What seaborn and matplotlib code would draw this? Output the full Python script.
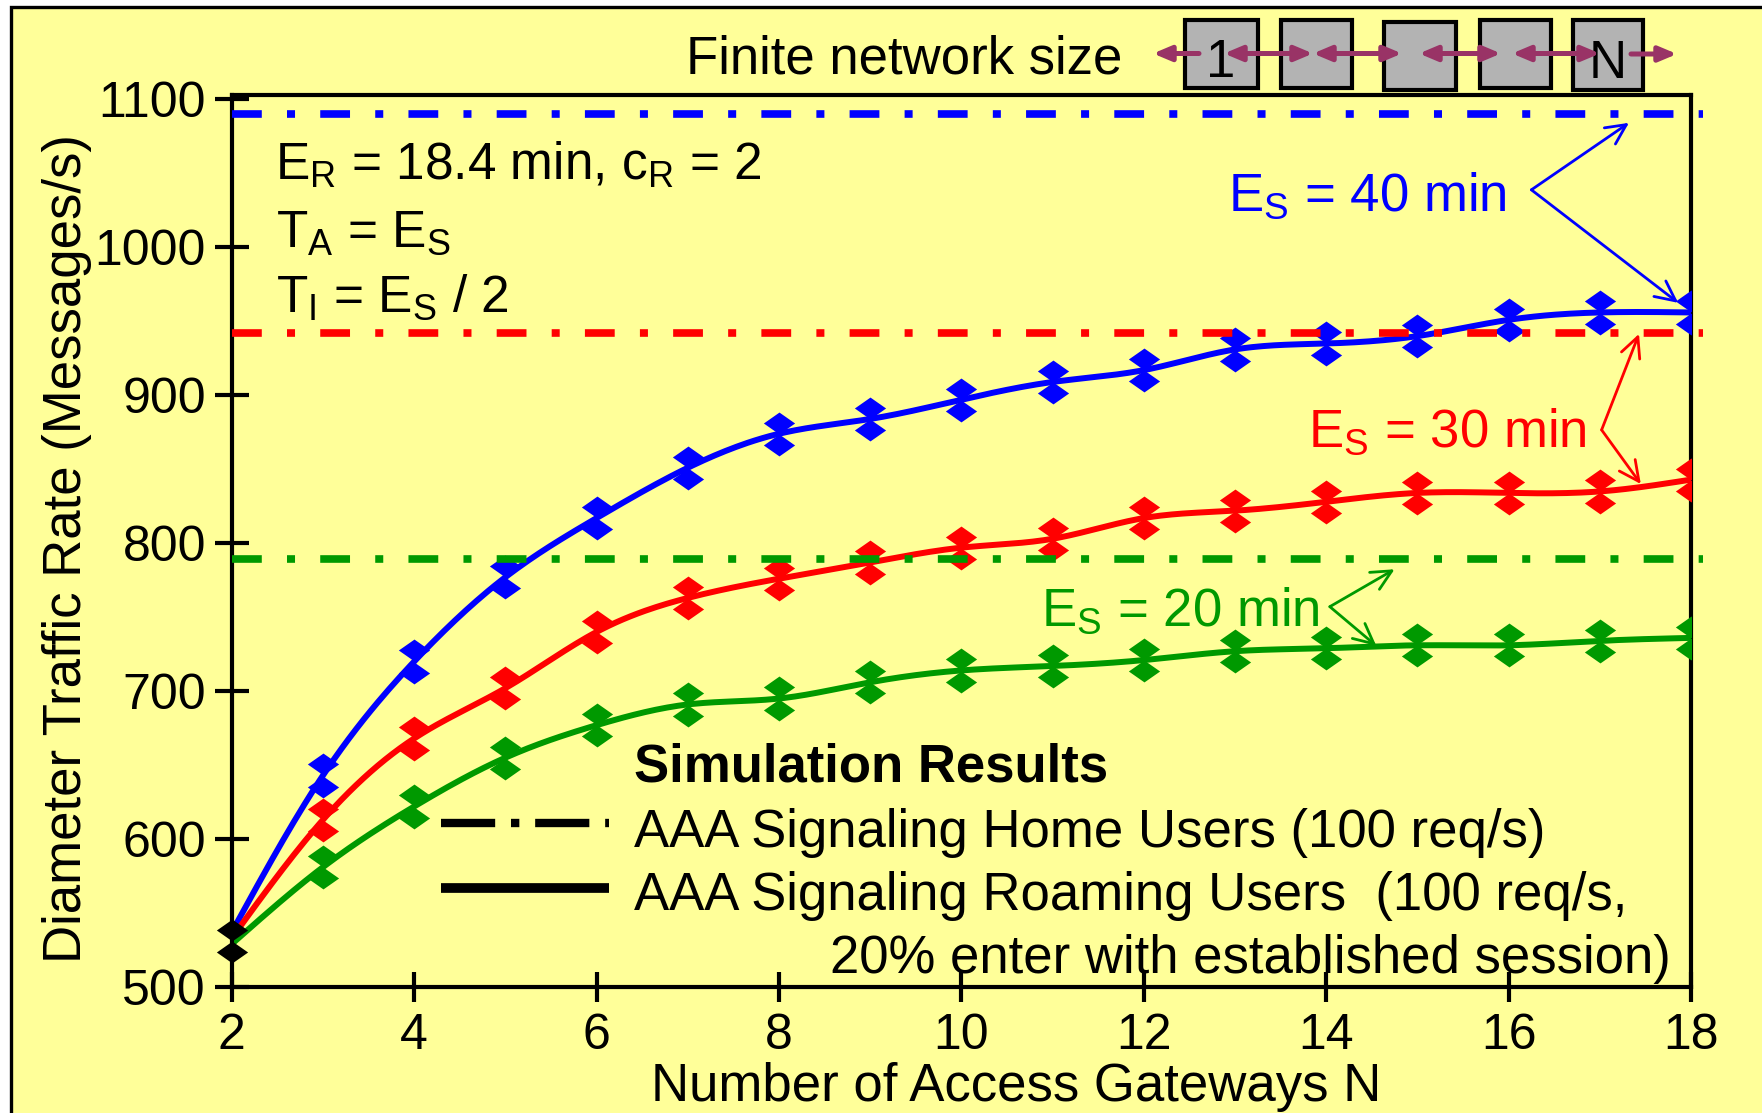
import numpy as np
import pandas as pd
import matplotlib
matplotlib.use("Agg")
import matplotlib.pyplot as plt
import seaborn as sns
from matplotlib.path import Path
from matplotlib.patches import Rectangle, FancyArrowPatch

# ---------------------------------------------------------------- data
gateways = list(range(2, 19))

# mean Diameter traffic rate of roaming users (messages/s)
rate_es40 = [537, 643, 720, 777, 817, 851, 874, 884, 897, 909, 917, 931, 935, 940, 951, 956, 956]
rate_es30 = [533, 613, 668, 702, 740, 763, 776, 787, 797, 803, 817, 822, 828, 834, 834, 835, 843]
rate_es20 = [529, 581, 622, 655, 677, 691, 695, 706, 714, 717, 721, 727, 729, 731, 731, 734, 736]

# half width of the simulation confidence interval
ci_half = 7.5
# common simulated value for a single gateway (N = 2)
start_mean = 531
start_ci_half = 7.3

# home-user signalling rates (horizontal reference levels)
home_es40 = 1090
home_es30 = 942
home_es20 = 789

series_names = ["E_S = 40 min", "E_S = 30 min", "E_S = 20 min"]
series_rates = [rate_es40, rate_es30, rate_es20]
home_levels = [home_es40, home_es30, home_es20]

x_ticks = [2, 4, 6, 8, 10, 12, 14, 16, 18]
y_ticks = [500, 600, 700, 800, 900, 1000, 1100]

# ---------------------------------------------------------------- style
W, H = 1762, 1113
YELLOW = "#FFFF99"
colors = {"E_S = 40 min": "#0000FF", "E_S = 30 min": "#FF0000", "E_S = 20 min": "#009900"}
PURPLE = "#993366"

sns.set_theme(style="white")
plt.rcParams["font.family"] = ["Liberation Sans", "DejaVu Sans"]
plt.rcParams["mathtext.fontset"] = "custom"
plt.rcParams["mathtext.rm"] = "Liberation Sans"
plt.rcParams["mathtext.it"] = "Liberation Sans:italic"
plt.rcParams["mathtext.bf"] = "Liberation Sans:bold"


def natural_spline(x, y, xs):
    """Natural cubic spline through (x, y), evaluated at xs."""
    x = np.asarray(x, float)
    y = np.asarray(y, float)
    n = len(x)
    h = np.diff(x)
    A = np.zeros((n, n))
    r = np.zeros(n)
    A[0, 0] = A[-1, -1] = 1.0
    for i in range(1, n - 1):
        A[i, i - 1] = h[i - 1]
        A[i, i] = 2 * (h[i - 1] + h[i])
        A[i, i + 1] = h[i]
        r[i] = 3 * ((y[i + 1] - y[i]) / h[i] - (y[i] - y[i - 1]) / h[i - 1])
    c = np.linalg.solve(A, r)
    b = (y[1:] - y[:-1]) / h - h * (2 * c[:-1] + c[1:]) / 3
    d = (c[1:] - c[:-1]) / (3 * h)
    idx = np.clip(np.searchsorted(x, xs) - 1, 0, n - 2)
    dx = xs - x[idx]
    return y[idx] + b[idx] * dx + c[idx] * dx ** 2 + d[idx] * dx ** 3


def P(px, py):
    """Pixel position (from top-left) to figure fraction."""
    return (px / W, 1 - py / H)


fig = plt.figure(figsize=(W / 100, H / 100), dpi=100)
fig.patch.set_facecolor("white")
fig.add_artist(Rectangle(P(11, 1200), (1850 - 11) / W, (1200 - 7) / H,
                         transform=fig.transFigure, facecolor=YELLOW,
                         edgecolor="black", lw=2.4, zorder=-10))

left, right, top, bottom = 231.7, 1691, 95, 987
ax = fig.add_axes([left / W, 1 - bottom / H, (right - left) / W, (bottom - top) / H])
ax.set_facecolor(YELLOW)

# ---------------------------------------------------------------- curves
dense_x = np.linspace(2, 18, 400)
frames = []
for name, rate in zip(series_names, series_rates):
    frames.append(pd.DataFrame({"N": dense_x,
                                "rate": natural_spline(gateways, rate, dense_x),
                                "series": name}))
curves = pd.concat(frames, ignore_index=True)
sns.lineplot(data=curves, x="N", y="rate", hue="series", palette=colors,
             estimator=None, sort=False, lw=4.3, legend=False, ax=ax, zorder=3)

diamond = Path([(0, 0.7), (1, 0), (0, -0.7), (-1, 0), (0, 0.7)],
               [Path.MOVETO, Path.LINETO, Path.LINETO, Path.LINETO, Path.CLOSEPOLY])
MARKER_S = 22.5 ** 2

for name, rate in zip(series_names, series_rates):
    n = np.array(gateways[1:])
    m = np.array(rate[1:], float)
    ax.vlines(n, m - ci_half, m + ci_half, color=colors[name], lw=2.2, zorder=4)
    ends = pd.DataFrame({"N": np.concatenate([n, n]),
                         "rate": np.concatenate([m - ci_half, m + ci_half])})
    sns.scatterplot(data=ends, x="N", y="rate", marker=diamond, s=MARKER_S,
                    color=colors[name], linewidth=0, ax=ax, zorder=5, legend=False)

# single-gateway result shared by all three series
ax.vlines([2], [start_mean - start_ci_half], [start_mean + start_ci_half],
          color="black", lw=2.2, zorder=6, clip_on=False)
sns.scatterplot(x=[2, 2], y=[start_mean - start_ci_half, start_mean + start_ci_half],
                marker=diamond, s=MARKER_S, color="black", linewidth=0, ax=ax,
                zorder=7, legend=False, clip_on=False)

# home users: constant rates
dash_pattern = (3.9, 3.3, 1.05, 3.3)
for name, level in zip(series_names, home_levels):
    ax.plot([2, 18.13], [level, level], color=colors[name], lw=5.5,
            dashes=dash_pattern, dash_capstyle="butt", clip_on=False, zorder=6)

# ---------------------------------------------------------------- axes
ax.set_xlim(2, 18)
ax.set_ylim(500, 1103)
ax.set_xticks(x_ticks)
ax.set_yticks(y_ticks)
ax.tick_params(axis="both", which="both", direction="inout", colors="black",
               labelsize=36, width=3)
ax.tick_params(axis="x", length=22, pad=8, bottom=True)
ax.tick_params(axis="y", length=25, pad=6, left=True)
for s in ax.spines.values():
    s.set_visible(True)
    s.set_color("black")
    s.set_linewidth(3)
ax.grid(False)

ax.set_xlabel("Number of Access Gateways N", fontsize=38, color="black")
ax.xaxis.set_label_coords(0.5375, -0.084)
ax.set_ylabel("Diameter Traffic Rate (Messages/s)", fontsize=38, color="black")
ax.yaxis.set_label_coords(-0.096, 0.492)

# ---------------------------------------------------------------- texts
ax.text(2.47, 1045.6, r"E$_{\mathregular{R}}$ = 18.4 min, c$_{\mathregular{R}}$ = 2",
        fontsize=37, va="baseline", ha="left", color="black")
ax.text(2.49, 1000.5, r"T$_{\mathregular{A}}$ = E$_{\mathregular{S}}$",
        fontsize=37, va="baseline", ha="left", color="black")
ax.text(2.49, 956.6, r"T$_{\mathregular{I}}$ = E$_{\mathregular{S}}$ / 2",
        fontsize=37, va="baseline", ha="left", color="black")

labels = {"E_S = 40 min": (r"E$_{\mathregular{S}}$ = 40 min", 12.92, 1024.9,
                           (16.25, 1038.9), [(17.32, 1084.2), (17.86, 962.5)]),
          "E_S = 30 min": (r"E$_{\mathregular{S}}$ = 30 min", 13.80, 865.1,
                           (17.02, 876.6), [(17.43, 941.5), (17.45, 840.0)]),
          "E_S = 20 min": (r"E$_{\mathregular{S}}$ = 20 min", 10.875, 744.1,
                           (14.04, 757.1), [(14.75, 782.4), (14.55, 730.6)])}
for name, (txt, tx, ty, vertex, tips) in labels.items():
    ax.text(tx, ty, txt, fontsize=38, va="baseline", ha="left", color=colors[name])
    for tip in tips:
        ax.annotate("", xy=tip, xytext=vertex, annotation_clip=False,
                    arrowprops=dict(arrowstyle="->,head_length=0.45,head_width=0.22",
                                    color=colors[name], lw=2.0, shrinkA=0, shrinkB=0,
                                    mutation_scale=32))

# legend block
ax.text(6.414, 638.8, "Simulation Results", fontsize=38, fontweight="bold",
        va="baseline", ha="left", color="black")
ax.plot([4.30, 6.14], [611.1, 611.1], color="black", lw=6, dashes=(6.5, 1.9, 1.0, 1.9),
        dash_capstyle="butt", zorder=6)
ax.text(6.414, 594.9, "AAA Signaling Home Users (100 req/s)", fontsize=38,
        va="baseline", ha="left", color="black")
ax.plot([4.30, 6.14], [566.7, 566.7], color="black", lw=7, solid_capstyle="butt", zorder=6)
ax.text(6.414, 552.1, "AAA Signaling Roaming Users  (100 req/s,", fontsize=38,
        va="baseline", ha="left", color="black")
ax.text(17.78, 509.5, "20% enter with established session)", fontsize=38,
        va="baseline", ha="right", color="black")

# ---------------------------------------------------------------- network sketch
fig.text(*P(685.5, 73.3), "Finite network size", fontsize=38, va="baseline",
         ha="left", color="black")
boxes = [(1185, 1258, 20, 88), (1281, 1352, 20, 88), (1384, 1456, 22, 90),
         (1480, 1551, 20, 88), (1573, 1643, 20, 90)]
for x0, x1, y0, y1 in boxes:
    fig.add_artist(Rectangle(P(x0, y1), (x1 - x0) / W, (y1 - y0) / H,
                             transform=fig.transFigure, facecolor="#B3B3B3",
                             edgecolor="black", lw=3, zorder=2))
fig.text(*P(1221, 76.7), "1", fontsize=38, ha="center", va="baseline", color="black", zorder=3)
fig.text(*P(1608, 77.5), "N", fontsize=38, ha="center", va="baseline", color="black", zorder=3)

links = [((1199, 53.5), (1153, 53.5), "-|>"),
         ((1224, 53.5), (1313, 53.5), "<|-|>"),
         ((1313, 53.5), (1402, 53.5), "<|-|>"),
         ((1419, 53.5), (1501, 53.5), "<|-|>"),
         ((1512, 53.5), (1600, 53.5), "<|-|>"),
         ((1631, 54), (1677, 54), "-|>")]
for a, b, style in links:
    fig.add_artist(FancyArrowPatch(P(*a), P(*b), transform=fig.transFigure,
                                   arrowstyle=f"{style},head_length=0.38,head_width=0.16",
                                   mutation_scale=28, color=PURPLE, lw=3.6,
                                   shrinkA=0, shrinkB=0, zorder=4))

fig.savefig("out.png", dpi=100, facecolor=fig.get_facecolor())
